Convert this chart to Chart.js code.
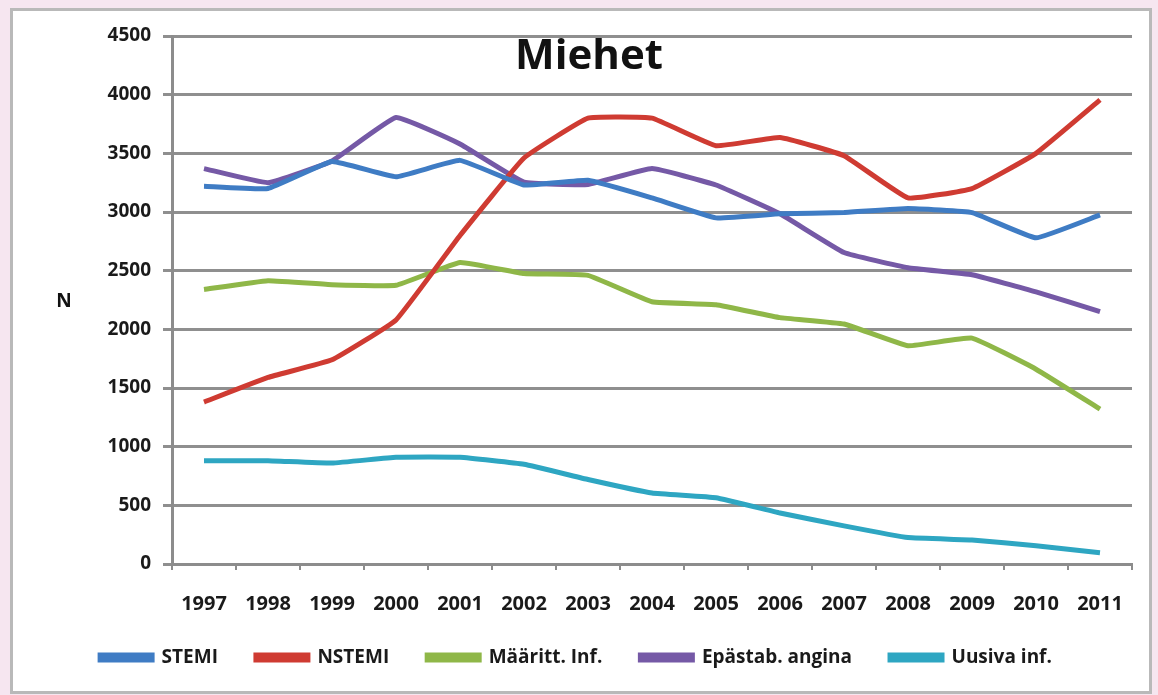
<!DOCTYPE html>
<html>
<head>
<meta charset="utf-8">
<script src="https://cdn.jsdelivr.net/npm/chart.js@4.4.0/dist/chart.umd.min.js"></script>
<style>
  html, body { margin: 0; padding: 0; }
  body { width: 1158px; height: 695px; background: #f6e6f0; position: relative; overflow: hidden; }
  #frame { position: absolute; left: 10px; top: 8px; width: 1136px; height: 680px; background: #fff; border: 3px solid #b9b9b9; }
  #lineChart { position: absolute; left: 0; top: 0; }
</style>
</head>
<body>
<div id="frame"></div>
<canvas id="lineChart" width="1158" height="695"></canvas>
<script>
// Years and values
const years = ['1997', '1998', '1999', '2000', '2001', '2002', '2003', '2004', '2005', '2006', '2007', '2008', '2009', '2010', '2011'];
const stemi = [3220, 3200, 3430, 3300, 3440, 3230, 3270, 3120, 2950, 2985, 2995, 3030, 2995, 2780, 2975];
const nstemi = [1380, 1590, 1740, 2080, 2800, 3460, 3800, 3800, 3565, 3635, 3480, 3120, 3200, 3500, 3955];
const maaritt = [2340, 2415, 2380, 2375, 2570, 2475, 2460, 2235, 2210, 2100, 2045, 1860, 1925, 1660, 1320];
const epastab = [3370, 3250, 3435, 3805, 3580, 3255, 3235, 3370, 3230, 2985, 2655, 2525, 2465, 2320, 2150];
const uusiva = [880, 880, 860, 910, 910, 850, 720, 605, 565, 435, 325, 225, 205, 155, 95];
const seriesNames = ['STEMI', 'NSTEMI', 'Määritt. Inf.', 'Epästab. angina', 'Uusiva inf.'];
const seriesColors = ['#3f7cc4', '#cf3b32', '#8fb748', '#7559a6', '#2ea6c2'];

const font = 'Open Sans, Lato, sans-serif';

// Title inside the plot and upright "N" label
const extraText = {
    id: 'extraText',
    afterDraw(chart) {
        const ctx = chart.ctx;
        ctx.save();
        ctx.fillStyle = '#111';
        ctx.textAlign = 'center';
        ctx.textBaseline = 'middle';
        ctx.font = 'bold 42px ' + font;
        ctx.fillText('Miehet', 589, 57);
        ctx.font = 'bold 19px ' + font;
        ctx.fillText('N', 64, 302);
        ctx.restore();
    }
};

const datasets = [stemi, nstemi, maaritt, epastab, uusiva].map((vals, i) => ({
    label: seriesNames[i],
    data: vals,
    borderColor: seriesColors[i],
    backgroundColor: seriesColors[i],
    borderWidth: 5,
    pointRadius: 0,
    tension: 0.1,
    fill: false
}));

const ctx = document.getElementById('lineChart').getContext('2d');
new Chart(ctx, {
    type: 'line',
    data: { labels: years, datasets: datasets },
    options: {
        responsive: false,
        animation: false,
        layout: { padding: { left: 20, right: 26, top: 36, bottom: 18 } },
        scales: {
            x: {
                offset: true,
                afterFit(scale) { scale.height = 46; },
                grid: { offset: true, drawOnChartArea: false, drawTicks: true, tickLength: 6, color: '#8c8c8c', lineWidth: 2 },
                border: { color: '#8c8c8c', width: 3 },
                ticks: { color: '#1a1a1a', font: { family: font, size: 20, weight: 'bold' }, padding: 22, maxRotation: 0, autoSkip: false }
            },
            y: {
                min: 0,
                max: 4500,
                afterFit(scale) { scale.width = 152; },
                grid: { color: '#8f8f8f', lineWidth: 3, tickLength: 9 },
                border: { color: '#8c8c8c', width: 3 },
                ticks: {
                    stepSize: 500, color: '#1a1a1a', padding: 12,
                    font: { family: font, size: 19, weight: 'bold' },
                    callback: (v) => String(v)
                }
            }
        },
        plugins: {
            legend: {
                position: 'bottom',
                labels: { boxWidth: 52, boxHeight: 5, padding: 38, color: '#1a1a1a', font: { family: font, size: 19, weight: 'bold' } }
            },
            tooltip: { enabled: false }
        }
    },
    plugins: [extraText]
});
</script>
</body>
</html>
